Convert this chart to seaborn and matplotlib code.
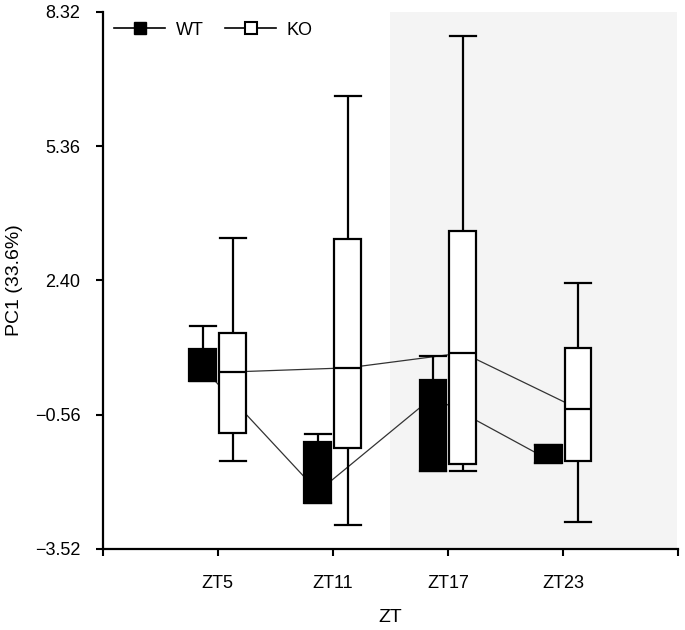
import numpy as np
import pandas as pd
import matplotlib
matplotlib.use("Agg")
import matplotlib.pyplot as plt
from matplotlib.lines import Line2D
import seaborn as sns

# ---- data (five-number summaries: min, q1, median, q3, max)
zt = ["ZT5", "ZT11", "ZT17", "ZT23"]
wt_min = [0.18, -2.51, -1.80, -1.62]
wt_q1 = [0.18, -2.51, -1.80, -1.62]
wt_med = [0.47, -2.26, -0.17, -1.55]
wt_q3 = [0.89, -1.16, 0.21, -1.23]
wt_max = [1.40, -0.99, 0.73, -1.23]

ko_min = [-1.58, -2.99, -1.80, -2.93]
ko_q1 = [-0.96, -1.29, -1.65, -1.58]
ko_med = [0.38, 0.47, 0.80, -0.43]
ko_q3 = [1.24, 3.31, 3.49, 0.91]
ko_max = [3.34, 6.47, 7.79, 2.34]

groups = ["WT", "KO"]
yticks = [-3.52, -0.56, 2.40, 5.36, 8.32]

rows = []
for g, cols in (("WT", (wt_min, wt_q1, wt_med, wt_q3, wt_max)),
                ("KO", (ko_min, ko_q1, ko_med, ko_q3, ko_max))):
    for i, z in enumerate(zt):
        for c in cols:
            rows.append({"ZT": z, "group": g, "PC1": c[i]})
df = pd.DataFrame(rows)

plt.rcParams["font.family"] = ["Liberation Sans", "DejaVu Sans"]
fig = plt.figure(figsize=(6.85, 6.3), dpi=100)
ax = fig.add_axes([0.150, 0.129, 0.840, 0.852])

# dark-phase shading
ax.axvspan(1.5, 3.99, color="#f4f4f4", zorder=0, lw=0)

width = 0.52
sns.boxplot(data=df, x="ZT", y="PC1", hue="group", order=zt, hue_order=groups,
            palette={"WT": "black", "KO": "white"}, width=width, gap=0.1,
            whis=(0, 100), linecolor="black", linewidth=1.6, fliersize=0,
            legend=False, ax=ax, capwidths=0.23)

# median trend lines through the dodged positions
off = width / 4
pos = np.arange(len(zt))
sns.lineplot(x=pos - off, y=wt_med, color="#333333", lw=0.9, zorder=1, ax=ax,
             legend=False)
sns.lineplot(x=pos + off, y=ko_med, color="#333333", lw=0.9, zorder=1, ax=ax,
             legend=False)

ax.set_xlim(-1, 4)
ax.set_ylim(-3.52, 8.32)
ax.set_xticks(range(-1, 5))
ax.set_xticklabels([""] + zt + [""])
ax.set_yticks(yticks)
ax.set_yticklabels([f"{v:.2f}".replace("-", "\u2212") for v in yticks])
ax.tick_params(direction="out", length=5, width=1.5, labelsize=13, colors="black")
ax.tick_params(axis="x", pad=14)
ax.tick_params(axis="y", pad=11)
for s in ("top", "right"):
    ax.spines[s].set_visible(False)
for s in ("left", "bottom"):
    ax.spines[s].set_linewidth(1.6)
    ax.spines[s].set_color("black")
ax.set_facecolor("white")
ax.set_xlabel("ZT", fontsize=14, labelpad=12)
ax.set_ylabel("PC1 (33.6%)", fontsize=14)
ax.yaxis.set_label_coords(-0.139, 0.5)

handles = [
    Line2D([], [], color="black", lw=1.2, marker="s", markersize=9,
           markerfacecolor="black", markeredgecolor="black"),
    Line2D([], [], color="black", lw=1.2, marker="s", markersize=9,
           markerfacecolor="white", markeredgecolor="black", markeredgewidth=1.5),
]
ax.legend(handles, groups, ncol=2, frameon=False, loc="upper left",
          bbox_to_anchor=(-0.008, 1.012), fontsize=13, handlelength=2.8,
          handletextpad=0.6, columnspacing=1.2)

fig.savefig("out.png", dpi=100)
